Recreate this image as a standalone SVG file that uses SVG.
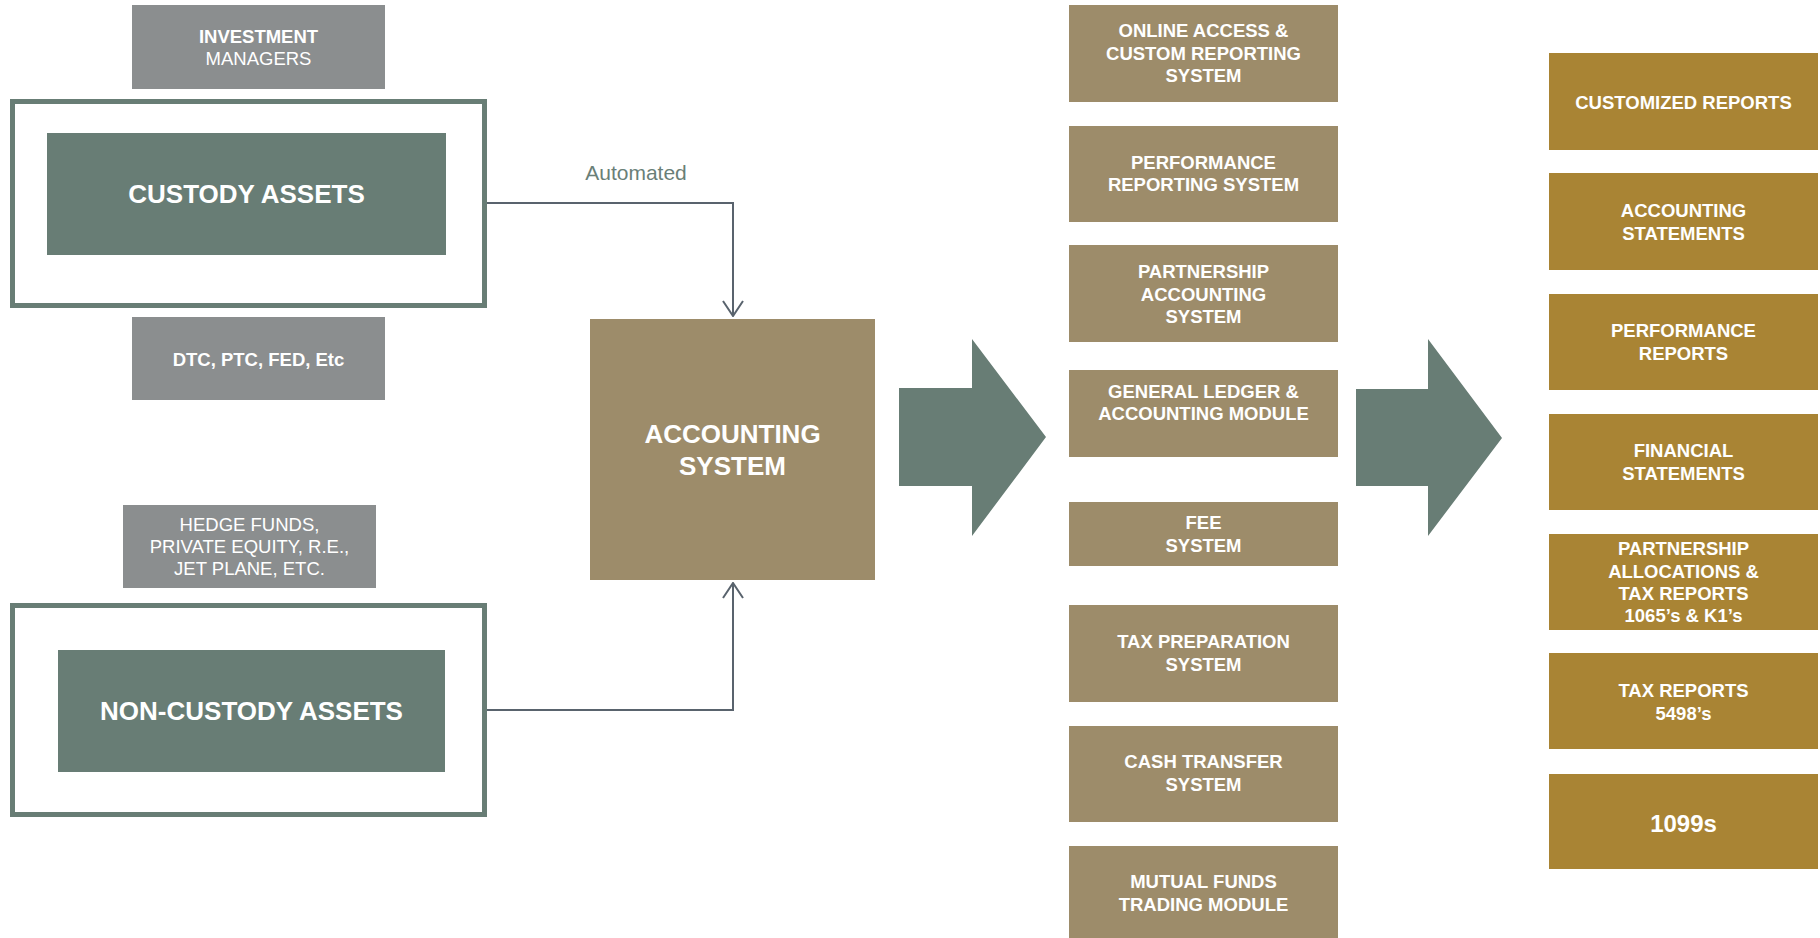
<svg xmlns="http://www.w3.org/2000/svg" width="1820" height="938" viewBox="0 0 1820 938">
<defs>
<style>
.gray{fill:#8b8e8f}
.green{fill:#687d75}
.tan{fill:#9d8c6a}
.gold{fill:#a98434}
.frame{fill:none;stroke:#687d75;stroke-width:5}
.t{font-family:"Liberation Sans",Arial,sans-serif;fill:#ffffff;text-anchor:middle}
.b{font-weight:bold}
.s{font-size:18.5px}
.l{font-size:26px}
.conn{fill:none;stroke:#59636d;stroke-width:2}
</style>
<marker id="open" viewBox="0 0 17 22" refX="16" refY="11" markerWidth="17" markerHeight="22" markerUnits="userSpaceOnUse" orient="auto">
<path d="M1,1 L16,11 L1,21" fill="none" stroke="#59636d" stroke-width="2"/>
</marker>
</defs>
<rect width="1820" height="938" fill="#ffffff"/>

<g id="investment-managers">
<rect class="gray" x="132" y="5" width="253" height="84"/>
<text class="t s b" x="258.5" y="43">INVESTMENT</text>
<text class="t s" x="258.5" y="65">MANAGERS</text>
</g>

<g id="custody-frame">
<rect class="frame" x="12.5" y="101.5" width="472" height="204"/>
</g>
<g id="custody-assets">
<rect class="green" x="47" y="133" width="399" height="122"/>
<text class="t l b" x="246.5" y="203">CUSTODY ASSETS</text>
</g>

<g id="dtc">
<rect class="gray" x="132" y="317" width="253" height="83"/>
<text class="t s b" x="258.5" y="366">DTC, PTC, FED, Etc</text>
</g>

<g id="hedge-funds">
<rect class="gray" x="123" y="505" width="253" height="83"/>
<text class="t s" x="249.5" y="531">HEDGE FUNDS,</text>
<text class="t s" x="249.5" y="553">PRIVATE EQUITY, R.E.,</text>
<text class="t s" x="249.5" y="575">JET PLANE, ETC.</text>
</g>

<g id="non-custody-frame">
<rect class="frame" x="12.5" y="605.5" width="472" height="209"/>
</g>
<g id="non-custody-assets">
<rect class="green" x="58" y="650" width="387" height="122"/>
<text class="t l b" x="251.5" y="720">NON-CUSTODY ASSETS</text>
</g>

<g id="accounting-system">
<rect class="tan" x="590" y="319" width="285" height="261"/>
<text class="t l b" x="732.5" y="443">ACCOUNTING</text>
<text class="t l b" x="732.5" y="475">SYSTEM</text>
</g>

<g id="connectors">
<path class="conn" d="M487,203 H733 V316" marker-end="url(#open)"/>
<path class="conn" d="M487,710 H733 V583" marker-end="url(#open)"/>
<text x="636" y="180" font-family="Liberation Sans,Arial,sans-serif" font-size="21" fill="#6a7f78" text-anchor="middle">Automated</text>
<polygon class="green" points="899,388 972,388 972,339 1046,437 972,536 972,486 899,486"/>
<polygon class="green" points="1356,389 1428,389 1428,339 1502,438 1428,536 1428,486 1356,486"/>
</g>

<g id="online-access">
<rect class="tan" x="1069" y="5" width="269" height="97"/>
<text class="t s b" x="1203.5" y="37">ONLINE ACCESS &amp;</text>
<text class="t s b" x="1203.5" y="59.5">CUSTOM REPORTING</text>
<text class="t s b" x="1203.5" y="82">SYSTEM</text>
</g>
<g id="performance-reporting">
<rect class="tan" x="1069" y="126" width="269" height="96"/>
<text class="t s b" x="1203.5" y="168.5">PERFORMANCE</text>
<text class="t s b" x="1203.5" y="191">REPORTING SYSTEM</text>
</g>
<g id="partnership-accounting">
<rect class="tan" x="1069" y="245" width="269" height="97"/>
<text class="t s b" x="1203.5" y="278">PARTNERSHIP</text>
<text class="t s b" x="1203.5" y="300.5">ACCOUNTING</text>
<text class="t s b" x="1203.5" y="322.5">SYSTEM</text>
</g>
<g id="general-ledger">
<rect class="tan" x="1069" y="370" width="269" height="87"/>
<text class="t s b" x="1203.5" y="398">GENERAL LEDGER &amp;</text>
<text class="t s b" x="1203.5" y="419.5">ACCOUNTING MODULE</text>
</g>
<g id="fee-system">
<rect class="tan" x="1069" y="502" width="269" height="64"/>
<text class="t s b" x="1203.5" y="529">FEE</text>
<text class="t s b" x="1203.5" y="552">SYSTEM</text>
</g>
<g id="tax-preparation">
<rect class="tan" x="1069" y="605" width="269" height="97"/>
<text class="t s b" x="1203.5" y="648">TAX PREPARATION</text>
<text class="t s b" x="1203.5" y="671">SYSTEM</text>
</g>
<g id="cash-transfer">
<rect class="tan" x="1069" y="726" width="269" height="96"/>
<text class="t s b" x="1203.5" y="768">CASH TRANSFER</text>
<text class="t s b" x="1203.5" y="791">SYSTEM</text>
</g>
<g id="mutual-funds">
<rect class="tan" x="1069" y="846" width="269" height="92"/>
<text class="t s b" x="1203.5" y="888">MUTUAL FUNDS</text>
<text class="t s b" x="1203.5" y="911">TRADING MODULE</text>
</g>

<g id="customized-reports">
<rect class="gold" x="1549" y="53" width="269" height="97"/>
<text class="t s b" x="1683.5" y="109">CUSTOMIZED REPORTS</text>
</g>
<g id="accounting-statements">
<rect class="gold" x="1549" y="173" width="269" height="97"/>
<text class="t s b" x="1683.5" y="217">ACCOUNTING</text>
<text class="t s b" x="1683.5" y="240">STATEMENTS</text>
</g>
<g id="performance-reports">
<rect class="gold" x="1549" y="294" width="269" height="96"/>
<text class="t s b" x="1683.5" y="337">PERFORMANCE</text>
<text class="t s b" x="1683.5" y="360">REPORTS</text>
</g>
<g id="financial-statements">
<rect class="gold" x="1549" y="414" width="269" height="96"/>
<text class="t s b" x="1683.5" y="457">FINANCIAL</text>
<text class="t s b" x="1683.5" y="480">STATEMENTS</text>
</g>
<g id="partnership-allocations">
<rect class="gold" x="1549" y="534" width="269" height="96"/>
<text class="t s b" x="1683.5" y="555">PARTNERSHIP</text>
<text class="t s b" x="1683.5" y="577.5">ALLOCATIONS &amp;</text>
<text class="t s b" x="1683.5" y="600">TAX REPORTS</text>
<text class="t s b" x="1683.5" y="622">1065’s &amp; K1’s</text>
</g>
<g id="tax-reports">
<rect class="gold" x="1549" y="653" width="269" height="96"/>
<text class="t s b" x="1683.5" y="697">TAX REPORTS</text>
<text class="t s b" x="1683.5" y="720">5498’s</text>
</g>
<g id="form-1099s">
<rect class="gold" x="1549" y="774" width="269" height="95"/>
<text class="t b" x="1683.5" y="832" font-size="24">1099s</text>
</g>
</svg>
